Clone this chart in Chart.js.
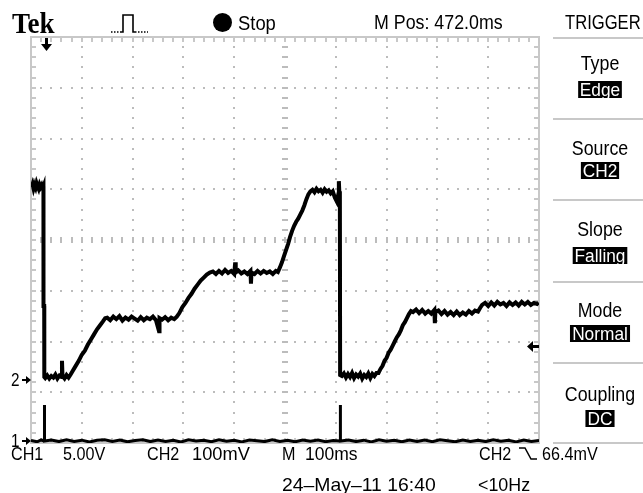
<!DOCTYPE html>
<html>
<head>
<meta charset="utf-8">
<script src="https://cdn.jsdelivr.net/npm/chart.js@4.4.1/dist/chart.umd.min.js"></script>
<style>
html, body { margin: 0; padding: 0; background: #fff; }
#wrap { position: relative; width: 643px; height: 493px; overflow: hidden; background: #fff; }
#scope { position: absolute; left: 0; top: 0; }
.t { position: absolute; white-space: nowrap; color: #000; line-height: 1;
     font-family: "Liberation Sans", Arial, sans-serif; transform-origin: left top; }
.sep { position: absolute; left: 553px; width: 90px; height: 2px; background: #c8c8c8; }
.box { display: inline-block; background: #000; color: #fff; height: 17px; line-height: 17px;
       padding: 0 2px; }
svg { position: absolute; left: 0; top: 0; }
</style>
</head>
<body>
<div id="wrap">
  <canvas id="scope" width="643" height="493"></canvas>
</div>
<script>
// CH2 trace, time in ms (M 100ms/div), level in mV (100mV/div)
const ch2Time = [
  1, 3, 5, 7, 9, 11, 13, 15, 17, 19, 21, 23, 24.5,
  24.6, 26, 26.2,
  28, 32, 36, 40, 44, 48, 52, 56, 60, 61, 62, 66, 70, 74, 78,
  82, 88, 94, 100, 106, 112, 118, 124, 130, 136, 142, 146,
  150, 156, 162, 168, 174, 180, 186, 192, 198, 204, 210, 216, 222, 228, 234, 240, 246, 252, 253, 258, 264, 270, 276, 282, 287,
  292, 298, 304, 310, 316, 322, 328, 334, 340, 346, 352, 358,
  364, 370, 376, 382, 388, 394, 400, 402, 403, 408, 414, 420, 426, 432, 433, 434, 440, 446, 452, 458, 464, 470, 476, 482, 486,
  490, 494, 498, 502, 506, 510, 514, 518, 522, 526, 530, 534, 538, 542, 546, 550,
  554, 558, 562, 566, 570, 574, 578, 582, 586, 590, 594, 598, 602, 605, 606, 607, 608,
  608.5, 612, 616, 620, 624, 628, 632, 636, 640, 644, 648, 652, 656, 660, 664, 668, 672, 676, 680,
  684, 688, 692, 696, 700, 704, 708, 712, 716, 720, 724, 728, 732, 736, 740, 744, 748,
  752, 758, 764, 770, 776, 782, 788, 794, 795, 796, 802, 808, 814, 820, 826, 832, 838, 844, 850, 856, 862, 868, 874, 880, 884,
  888, 894, 900, 906, 912, 918, 924, 930, 936, 942, 948, 954, 960, 966, 972, 978, 984, 990, 996, 999
]
const ch2Millivolts = [
  380, 386, 377, 384, 379, 388, 382, 377, 385, 380, 384, 378, 382,
  146, 146, 6,
  4, 9, 3, 8, 5, 11, 3, 9, 6, 38, 8, 3, 10, 5, 11,
  18, 28, 38, 50, 58, 70, 80, 90, 100, 108, 116, 122,
  123, 118, 125, 120, 126, 117, 123, 119, 125, 121, 117, 124, 118, 123, 120, 125, 118, 96, 122, 119, 124, 118, 123, 120, 125,
  132, 144, 152, 162, 170, 180, 188, 196, 202, 208, 212, 214,
  209, 215, 210, 217, 211, 215, 209, 232, 212, 216, 210, 214, 209, 215, 190, 212, 209, 215, 210, 215, 211, 214, 209, 215, 213,
  222, 232, 244, 256, 268, 282, 294, 304, 312, 318, 326, 334, 344, 356, 366, 372,
  375, 370, 377, 372, 375, 369, 376, 371, 374, 368, 372, 360, 352, 366, 392, 370, 372,
  10, 8, 13, 5, 12, 6, 14, 4, 11, 7, 13, 3, 10, 6, 13, 4, 12, 8, 14,
  14, 22, 28, 38, 44, 54, 60, 68, 76, 84, 90, 98, 108, 114, 122, 130, 136,
  134, 139, 132, 138, 131, 136, 131, 138, 112, 134, 137, 130, 136, 129, 134, 128, 135, 128, 133, 129, 136, 131, 137, 135, 142,
  148, 152, 146, 153, 147, 154, 149, 152, 146, 153, 148, 153, 147, 154, 149, 154, 148, 152, 150, 153
]

// CH1 trace, time in ms, level in V (5.00V/div)
const ch1Time = [
  0, 12, 20, 26.1, 26.3, 26.6, 26.8, 40, 55, 70, 85, 100, 115, 130, 145, 160, 175, 190, 205, 220,
  235, 250, 265, 280, 295, 310, 325, 340, 355, 370, 385, 400, 415, 430, 445, 460, 475, 490, 505, 520,
  535, 550, 565, 580, 595, 608.6, 608.8, 609.1, 609.3, 625, 640, 655, 670, 685, 700, 715, 730, 745,
  760, 775, 790, 805, 820, 835, 850, 865, 880, 895, 910, 925, 940, 955, 970, 985, 1000
]
const ch1Volts = [
  0.05, -0.08, 0.1, 0, 3.55, 3.55, 0, 0.1, -0.06, 0.12, -0.04, 0.08, -0.1, 0.06, 0.12, -0.05, 0.09, -0.08, 0.04, 0.12,
  -0.06, 0.1, -0.04, 0.07, -0.1, 0.11, 0, 0.08, -0.07, 0.12, -0.03, 0.06, -0.09, 0.1, 0.02, -0.06, 0.11, -0.04, 0.07, -0.08,
  0.1, -0.02, 0.09, -0.07, 0.04, 0, 3.55, 3.55, 0, 0.1, -0.06, 0.08, -0.09, 0.12, -0.03, 0.07, -0.08, 0.1,
  -0.05, 0.09, -0.07, 0.11, 0.02, -0.08, 0.1, -0.04, 0.08, -0.06, 0.12, -0.02, 0.07, -0.09, 0.1, -0.05, 0.06
]

const triggerTimeMs = 29
const triggerLevelMv = 66.4

const topTexts = ['Stop', 'M Pos: 472.0ms', 'TRIGGER']
const panelLabels = ['Type', 'Source', 'Slope', 'Mode', 'Coupling']
const panelValues = ['Edge', 'CH2', 'Falling', 'Normal', 'DC']
const bottomTexts = ['CH1', '5.00V', 'CH2', '100mV', 'M', '100ms', 'CH2', '66.4mV', '24\u2013May\u201311 16:40', '<10Hz']

const wrap = document.getElementById('wrap')

const addText = (txt, x, base, size, sx, extra) => {
    const el = document.createElement('div')
    el.className = 't'
    el.textContent = txt
    el.style.left = x + 'px'
    el.style.top = (base - 0.8465 * size) + 'px'
    el.style.fontSize = size + 'px'
    if (sx) el.style.transform = `scaleX(${sx})`
    if (extra) Object.assign(el.style, extra)
    wrap.appendChild(el)
    return el
}

// dotted graticule, 10 x 8 divisions with 5 minor ticks each
const graticule = {
    id: 'graticule',
    beforeDatasetsDraw(chart) {
        const { ctx, chartArea: a } = chart
        const dx = (a.right - a.left) / 10
        const dy = (a.bottom - a.top) / 8
        const cx = a.left + 5 * dx
        const cy = a.top + 4 * dy
        ctx.save()
        ctx.fillStyle = '#bcbcbc'
        for (let i = 1; i < 10; i++) {
            if (i === 5) continue
            const x = Math.round(a.left + i * dx)
            for (let j = 1; j < 40; j++) {
                ctx.fillRect(x - 1, Math.round(a.top + j * dy / 5) - 1, 2, 2)
            }
        }
        for (let j = 1; j < 8; j++) {
            if (j === 4) continue
            const y = Math.round(a.top + j * dy)
            for (let i = 1; i < 50; i++) {
                ctx.fillRect(Math.round(a.left + i * dx / 5) - 1, y - 1, 2, 2)
            }
        }
        // centre cross ticks
        for (let i = 1; i < 50; i++) {
            ctx.fillRect(Math.round(a.left + i * dx / 5) - 1, Math.round(cy) - 3, 2, 6)
        }
        for (let j = 1; j < 40; j++) {
            ctx.fillRect(Math.round(cx) - 3, Math.round(a.top + j * dy / 5) - 1, 6, 2)
        }
        // border with inward ticks
        ctx.fillStyle = '#c8c8c8'
        ctx.fillRect(a.left - 1, a.top - 1, a.right - a.left + 2, 2)
        ctx.fillRect(a.left - 1, a.bottom - 1, a.right - a.left + 2, 2)
        ctx.fillRect(a.left - 1, a.top - 1, 2, a.bottom - a.top + 2)
        ctx.fillRect(a.right - 1, a.top - 1, 2, a.bottom - a.top + 2)
        for (let i = 1; i < 50; i++) {
            const x = Math.round(a.left + i * dx / 5)
            ctx.fillRect(x - 1, a.top, 2, 5)
            ctx.fillRect(x - 1, a.bottom - 5, 2, 5)
        }
        for (let j = 1; j < 40; j++) {
            const y = Math.round(a.top + j * dy / 5)
            ctx.fillRect(a.left, y - 1, 5, 2)
            ctx.fillRect(a.right - 5, y - 1, 5, 2)
        }
        ctx.restore()
    }
}

// ground, trigger position and trigger level markers
const markers = {
    id: 'markers',
    afterDatasetsDraw(chart) {
        const { ctx, chartArea: a, scales } = chart
        ctx.save()
        ctx.fillStyle = '#000'
        // trigger position (top)
        const tx = Math.round(scales.x.getPixelForValue(triggerTimeMs))
        ctx.fillRect(tx - 1, a.top + 1, 3, 7)
        ctx.beginPath()
        ctx.moveTo(tx - 5, a.top + 7)
        ctx.lineTo(tx + 6, a.top + 7)
        ctx.lineTo(tx + 0.5, a.top + 14)
        ctx.closePath()
        ctx.fill()
        // trigger level (right)
        const ty = Math.round(scales.yCh2.getPixelForValue(triggerLevelMv))
        ctx.fillRect(a.right - 7, ty - 1, 7, 3)
        ctx.beginPath()
        ctx.moveTo(a.right - 12, ty + 0.5)
        ctx.lineTo(a.right - 6, ty - 5)
        ctx.lineTo(a.right - 6, ty + 6)
        ctx.closePath()
        ctx.fill()
        // channel ground arrows (left)
        const grounds = [scales.yCh1.getPixelForValue(0), scales.yCh2.getPixelForValue(0)]
        grounds.forEach((gy) => {
            const y = Math.round(gy)
            ctx.fillRect(a.left - 9, y - 1, 5, 2)
            ctx.beginPath()
            ctx.moveTo(a.left - 5, y - 4)
            ctx.lineTo(a.left, y)
            ctx.lineTo(a.left - 5, y + 4)
            ctx.closePath()
            ctx.fill()
        })
        ctx.restore()
        labelCh1.style.top = (grounds[0] + 6 - 0.8465 * 18) + 'px'
        labelCh2.style.top = (grounds[1] + 6 - 0.8465 * 18) + 'px'
    }
}

// text around the screen
addText('Tek', 12, 33, 30, 0.9, { fontFamily: '"Liberation Serif", "DejaVu Serif", serif', fontWeight: 'bold' })
addText(topTexts[0], 238, 30, 20, 0.92)
addText(topTexts[1], 374, 29, 20, 0.89)
addText(topTexts[2], 565, 29, 20, 0.83)

const labelCh1 = addText('1', 11, 447, 18, 0.85)
const labelCh2 = addText('2', 11, 386, 18, 0.85)

const labelBase = [70, 155, 236, 317, 401]
const boxTop = [81, 162, 247, 325, 410]
const sepY = [37, 118, 199, 281, 362, 442]
sepY.forEach((y) => {
    const s = document.createElement('div')
    s.className = 'sep'
    s.style.top = y + 'px'
    wrap.appendChild(s)
})
panelLabels.forEach((lab, i) => {
    addText(lab, 553, labelBase[i], 20, 0.89, { width: '94px', textAlign: 'center', transformOrigin: '47px 0' })
    const holder = addText('', 553, 0, 19, 0.91, { width: '94px', textAlign: 'center', top: boxTop[i] + 'px', lineHeight: '17px', transformOrigin: '47px 0' })
    const b = document.createElement('span')
    b.className = 'box'
    b.textContent = panelValues[i]
    holder.appendChild(b)
})

const bottomX = [11, 63, 147, 192, 282, 305, 479, 542]
const bottomScale = [0.85, 0.85, 0.85, 0.96, 0.85, 0.92, 0.85, 0.85]
bottomX.forEach((x, i) => addText(bottomTexts[i], x, 460, 19, bottomScale[i]))
addText(bottomTexts[8], 282, 491, 19, 1.02)
addText(bottomTexts[9], 478, 491, 19, 0.94)

// small icons: acquisition pulse, stop dot, falling edge
const icons = `<svg width="643" height="493" xmlns="http://www.w3.org/2000/svg">
  <path d="M111 32 H121" stroke="#000" stroke-width="1.5" stroke-dasharray="1.5 1.5" fill="none"/>
  <path d="M121 32 H123 V15 H133 V32 H135" stroke="#000" stroke-width="1.6" fill="none"/>
  <path d="M135 32 H148" stroke="#000" stroke-width="1.5" stroke-dasharray="1.5 1.5" fill="none"/>
  <circle cx="222.5" cy="22.5" r="9.5" fill="#000"/>
  <path d="M519 448 H525 L531 459 H537" stroke="#000" stroke-width="1.5" fill="none"/>
</svg>`
wrap.insertAdjacentHTML('beforeend', icons)

const ctx = document.getElementById('scope').getContext('2d')
const config = {
    type: 'line',
    data: {
        datasets: [{
                label: 'CH2',
                data: ch2Time.map((t, i) => ({ x: t, y: ch2Millivolts[i] })),
                yAxisID: 'yCh2',
                borderColor: '#000',
                borderWidth: 4,
                pointRadius: 0,
                tension: 0
            },
            {
                label: 'CH1',
                data: ch1Time.map((t, i) => ({ x: t, y: ch1Volts[i] })),
                yAxisID: 'yCh1',
                borderColor: '#000',
                borderWidth: 3,
                pointRadius: 0,
                tension: 0
            }
        ]
    },
    options: {
        responsive: false,
        animation: false,
        devicePixelRatio: 1,
        layout: { padding: { left: 31, right: 104, top: 37, bottom: 50 } },
        plugins: { legend: { display: false }, tooltip: { enabled: false } },
        scales: {
            x: { type: 'linear', min: 0, max: 1000, display: false },
            yCh2: { type: 'linear', min: -124, max: 676, display: false },
            yCh1: { type: 'linear', min: -0.2, max: 39.8, display: false }
        }
    },
    plugins: [graticule, markers]
}
const scope = new Chart(ctx, config)
</script>
</body>
</html>
